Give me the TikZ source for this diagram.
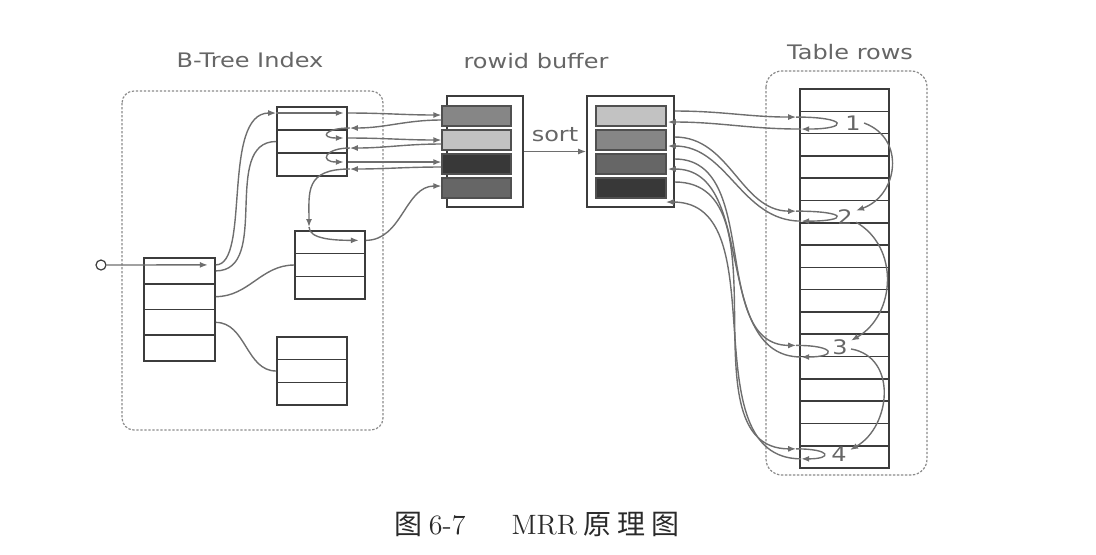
\documentclass[tikz,border=0pt]{standalone}
\usepackage{fontspec}
\usetikzlibrary{arrows.meta,calc}
\newfontfamily\labelfont[FakeStretch=1.2]{DejaVu Sans}
\newfontfamily\cjk{Noto Sans CJK SC}
\definecolor{boxc}{HTML}{3C3C3C}
\definecolor{linec}{HTML}{6E6E6E}
\definecolor{textc}{HTML}{666666}
\definecolor{grpc}{HTML}{8A8A8A}
\definecolor{capc}{HTML}{2A2A2A}
\definecolor{barline}{HTML}{505050}
\definecolor{barA}{HTML}{868686}
\definecolor{barB}{HTML}{C2C2C2}
\definecolor{barC}{HTML}{383838}
\definecolor{barD}{HTML}{666666}
\begin{document}
\begin{tikzpicture}[x=0.5pt,y=0.5pt,
  row/.style={draw=boxc, line width=0.8pt, inner sep=0, minimum width=35pt},
  bar/.style={draw=barline, line width=0.6pt, inner sep=0, minimum height=10pt},
  link/.style={draw=linec, line width=0.7pt},
  arr/.style={-{Latex[length=4pt,width=3pt]}},
  grp/.style={draw=grpc, line width=0.6pt, dash pattern=on 1.2pt off 0.8pt},
  lbl/.style={font=\labelfont\fontsize{10}{12}\selectfont, text=textc},
  num/.style={font=\labelfont\fontsize{10}{12}\selectfont, text=textc, inner sep=1.5pt}]
\useasboundingbox (0,0) rectangle (1096,-554);
\draw[grp, rounded corners=6pt] (122,-91) rectangle (383,-430);
\draw[grp, rounded corners=8pt] (766,-71) rectangle (927,-475);
\node[lbl] (idxlabel) at (250,-60) {B-Tree Index};
\node[lbl] (buflabel) at (536,-61) {rowid buffer};
\node[lbl] (sortlabel) at (555,-135) {sort};
\node[lbl] (tablabel) at (850,-52) {Table rows};
\node[circle, draw=boxc, line width=0.6pt, minimum size=5pt, inner sep=0] (start) at (101,-265) {};
\foreach \i in {1,...,4} \node[row, minimum width=35.5pt, minimum height=12.875pt] (root\i) at (179.5,{-258-25.75*(\i-0.5)}) {};
\foreach \i in {1,...,3} \node[row, minimum height=11.5pt] (up\i) at (312,{-107-23*(\i-0.5)}) {};
\foreach \i in {1,...,3} \node[row, minimum height=11.33pt] (mid\i) at (330,{-231-22.67*(\i-0.5)}) {};
\foreach \i in {1,...,3} \node[row, minimum height=11.33pt] (low\i) at (312,{-337-22.67*(\i-0.5)}) {};
\node[draw=boxc, line width=0.8pt, minimum width=38pt, minimum height=55.5pt, inner sep=0] (buf1) at (485,-151.5) {};
\node[bar, minimum width=34.5pt, fill=barA] (lb1) at (476.5,-116) {};
\node[bar, minimum width=34.5pt, fill=barB] (lb2) at (476.5,-140) {};
\node[bar, minimum width=34.5pt, fill=barC] (lb3) at (476.5,-164) {};
\node[bar, minimum width=34.5pt, fill=barD] (lb4) at (476.5,-188) {};
\node[draw=boxc, line width=0.8pt, minimum width=43.5pt, minimum height=55.5pt, inner sep=0] (buf2) at (630.5,-151.5) {};
\node[bar, minimum width=35pt, fill=barB] (rb1) at (631,-116) {};
\node[bar, minimum width=35pt, fill=barA] (rb2) at (631,-140) {};
\node[bar, minimum width=35pt, fill=barD] (rb3) at (631,-164) {};
\node[bar, minimum width=35pt, fill=barC] (rb4) at (631,-188) {};
\foreach \i in {1,...,17} \node[row, minimum width=44.5pt, minimum height=11.147pt] (tr\i) at (844.5,{-89-22.294*(\i-0.5)}) {};
\node[num] (lab1) at (853,-123) {1};
\node[num] (lab2) at (845,-217) {2};
\node[num] (lab3) at (840,-347) {3};
\node[num] (lab4) at (839,-454) {4};
\node[font=\fontsize{14}{16}\selectfont, text=capc] (caption) at (537,-524) {{\cjk 图}\hspace{3pt}6-7\hspace{23pt}MRR\hspace{3pt}{\cjk 原\hspace{3pt}理\hspace{3pt}图}};
\coordinate (drop) at (309,-227);
\draw[link, arr] (start) -- ($(root1.east)+(-8,6)$);
\draw[link, arr] ($(root1.east)+(0,6)$) .. controls +(35,0) and +(-55,0) .. ($(up1.west)+(0,5.5)$);
\draw[link] (root1.east) to[out=0, in=180] (up2.west);
\draw[link] (root2.east) to[out=0, in=180] (mid2.west);
\draw[link] (root3.east) to[out=0, in=180] (low2.west);
\draw[link, arr] ($(up1.west)+(0,5.5)$) -- ($(up1.east)+(-4,5.5)$);
\draw[link, arr] ($(up1.east)+(0,5.5)$) to[out=0, in=180] ($(lb1.west)+(0,1)$);
\draw[link, arr] ($(lb1.west)+(0,-4)$) to[out=180, in=0] ($(up1.east)+(2,-9.5)$);
\draw[link, arr] ($(up1.east)+(2,-9.5)$) .. controls +(-25,0) and +(-25,0) .. ($(up2.east)+(-4,3.5)$);
\draw[link, arr] ($(up2.east)+(0,3.5)$) to[out=0, in=180] (lb2.west);
\draw[link, arr] ($(lb2.west)+(0,-4)$) to[out=180, in=0] ($(up2.east)+(2,-6.5)$);
\draw[link, arr] ($(up2.east)+(2,-6.5)$) .. controls +(-25,0) and +(-25,0) .. ($(up3.east)+(-4,2.5)$);
\draw[link, arr] ($(up3.east)+(0,2.5)$) to[out=0, in=180] ($(lb3.west)+(0,2)$);
\draw[link, arr] ($(lb3.west)+(0,-3)$) to[out=180, in=0] ($(up3.east)+(2,-4.5)$);
\draw[link, arr] ($(up3.east)+(2,-4.5)$) .. controls +(-45,0) and +(0,35) .. (drop);
\draw[link, arr] (drop) .. controls +(0,-12) and +(-25,0) .. ($(mid1.east)+(-7,2)$);
\draw[link, arr] ($(mid1.east)+(0,2)$) to[out=0, in=180] ($(lb4.west)+(0,2)$);
\draw[link, arr] (buf1) -- (buf2);
\draw[link, arr] ($(buf2.east)+(0,40.5)$) to[out=0, in=180] ($(tr2.west)+(-3,5.4)$);
\draw[link, arr] ($(tr2.west)+(-3,5.4)$) .. controls +(52,0) and +(48,0) .. ($(tr2.west)+(2,-6.6)$);
\draw[link, arr] ($(tr2.west)+(2,-6.6)$) to[out=180, in=0] ($(buf2.east)+(-7,29.5)$);
\draw[link, arr] ($(buf2.east)+(0,14.5)$) to[out=0, in=180] ($(tr6.west)+(-3,0.5)$);
\draw[link, arr] ($(tr6.west)+(-3,0.5)$) .. controls +(52,0) and +(48,0) .. ($(tr6.west)+(2,-9.5)$);
\draw[link, arr] ($(tr6.west)+(2,-9.5)$) to[out=180, in=0] ($(buf2.east)+(-7,5.5)$);
\draw[link, arr] ($(buf2.east)+(0,-7.5)$) to[out=0, in=180] ($(tr12.west)+(-3,0)$);
\draw[link, arr] ($(tr12.west)+(-3,0)$) .. controls +(40,0) and +(36,0) .. ($(tr12.west)+(2,-11.6)$);
\draw[link, arr] ($(tr12.west)+(2,-11.6)$) to[out=180, in=0] ($(buf2.east)+(-7,-17.5)$);
\draw[link, arr] ($(buf2.east)+(0,-30.5)$) to[out=0, in=180] ($(tr17.west)+(-3,8)$);
\draw[link, arr] ($(tr17.west)+(-3,8)$) .. controls +(35,0) and +(32,0) .. ($(tr17.west)+(2,-2)$);
\draw[link, arr] ($(tr17.west)+(2,-2)$) to[out=180, in=0] ($(buf2.east)+(-9,-50.5)$);
\draw[link, arr] (lab1.east) to[out=-20, in=20, looseness=1.3] (lab2.30);
\draw[link, arr] (lab2.-25) to[out=-30, in=30, looseness=1.1] (lab3.30);
\draw[link, arr] (lab3.-10) to[out=-10, in=30, looseness=1.2] (lab4.20);
\end{tikzpicture}
\end{document}
